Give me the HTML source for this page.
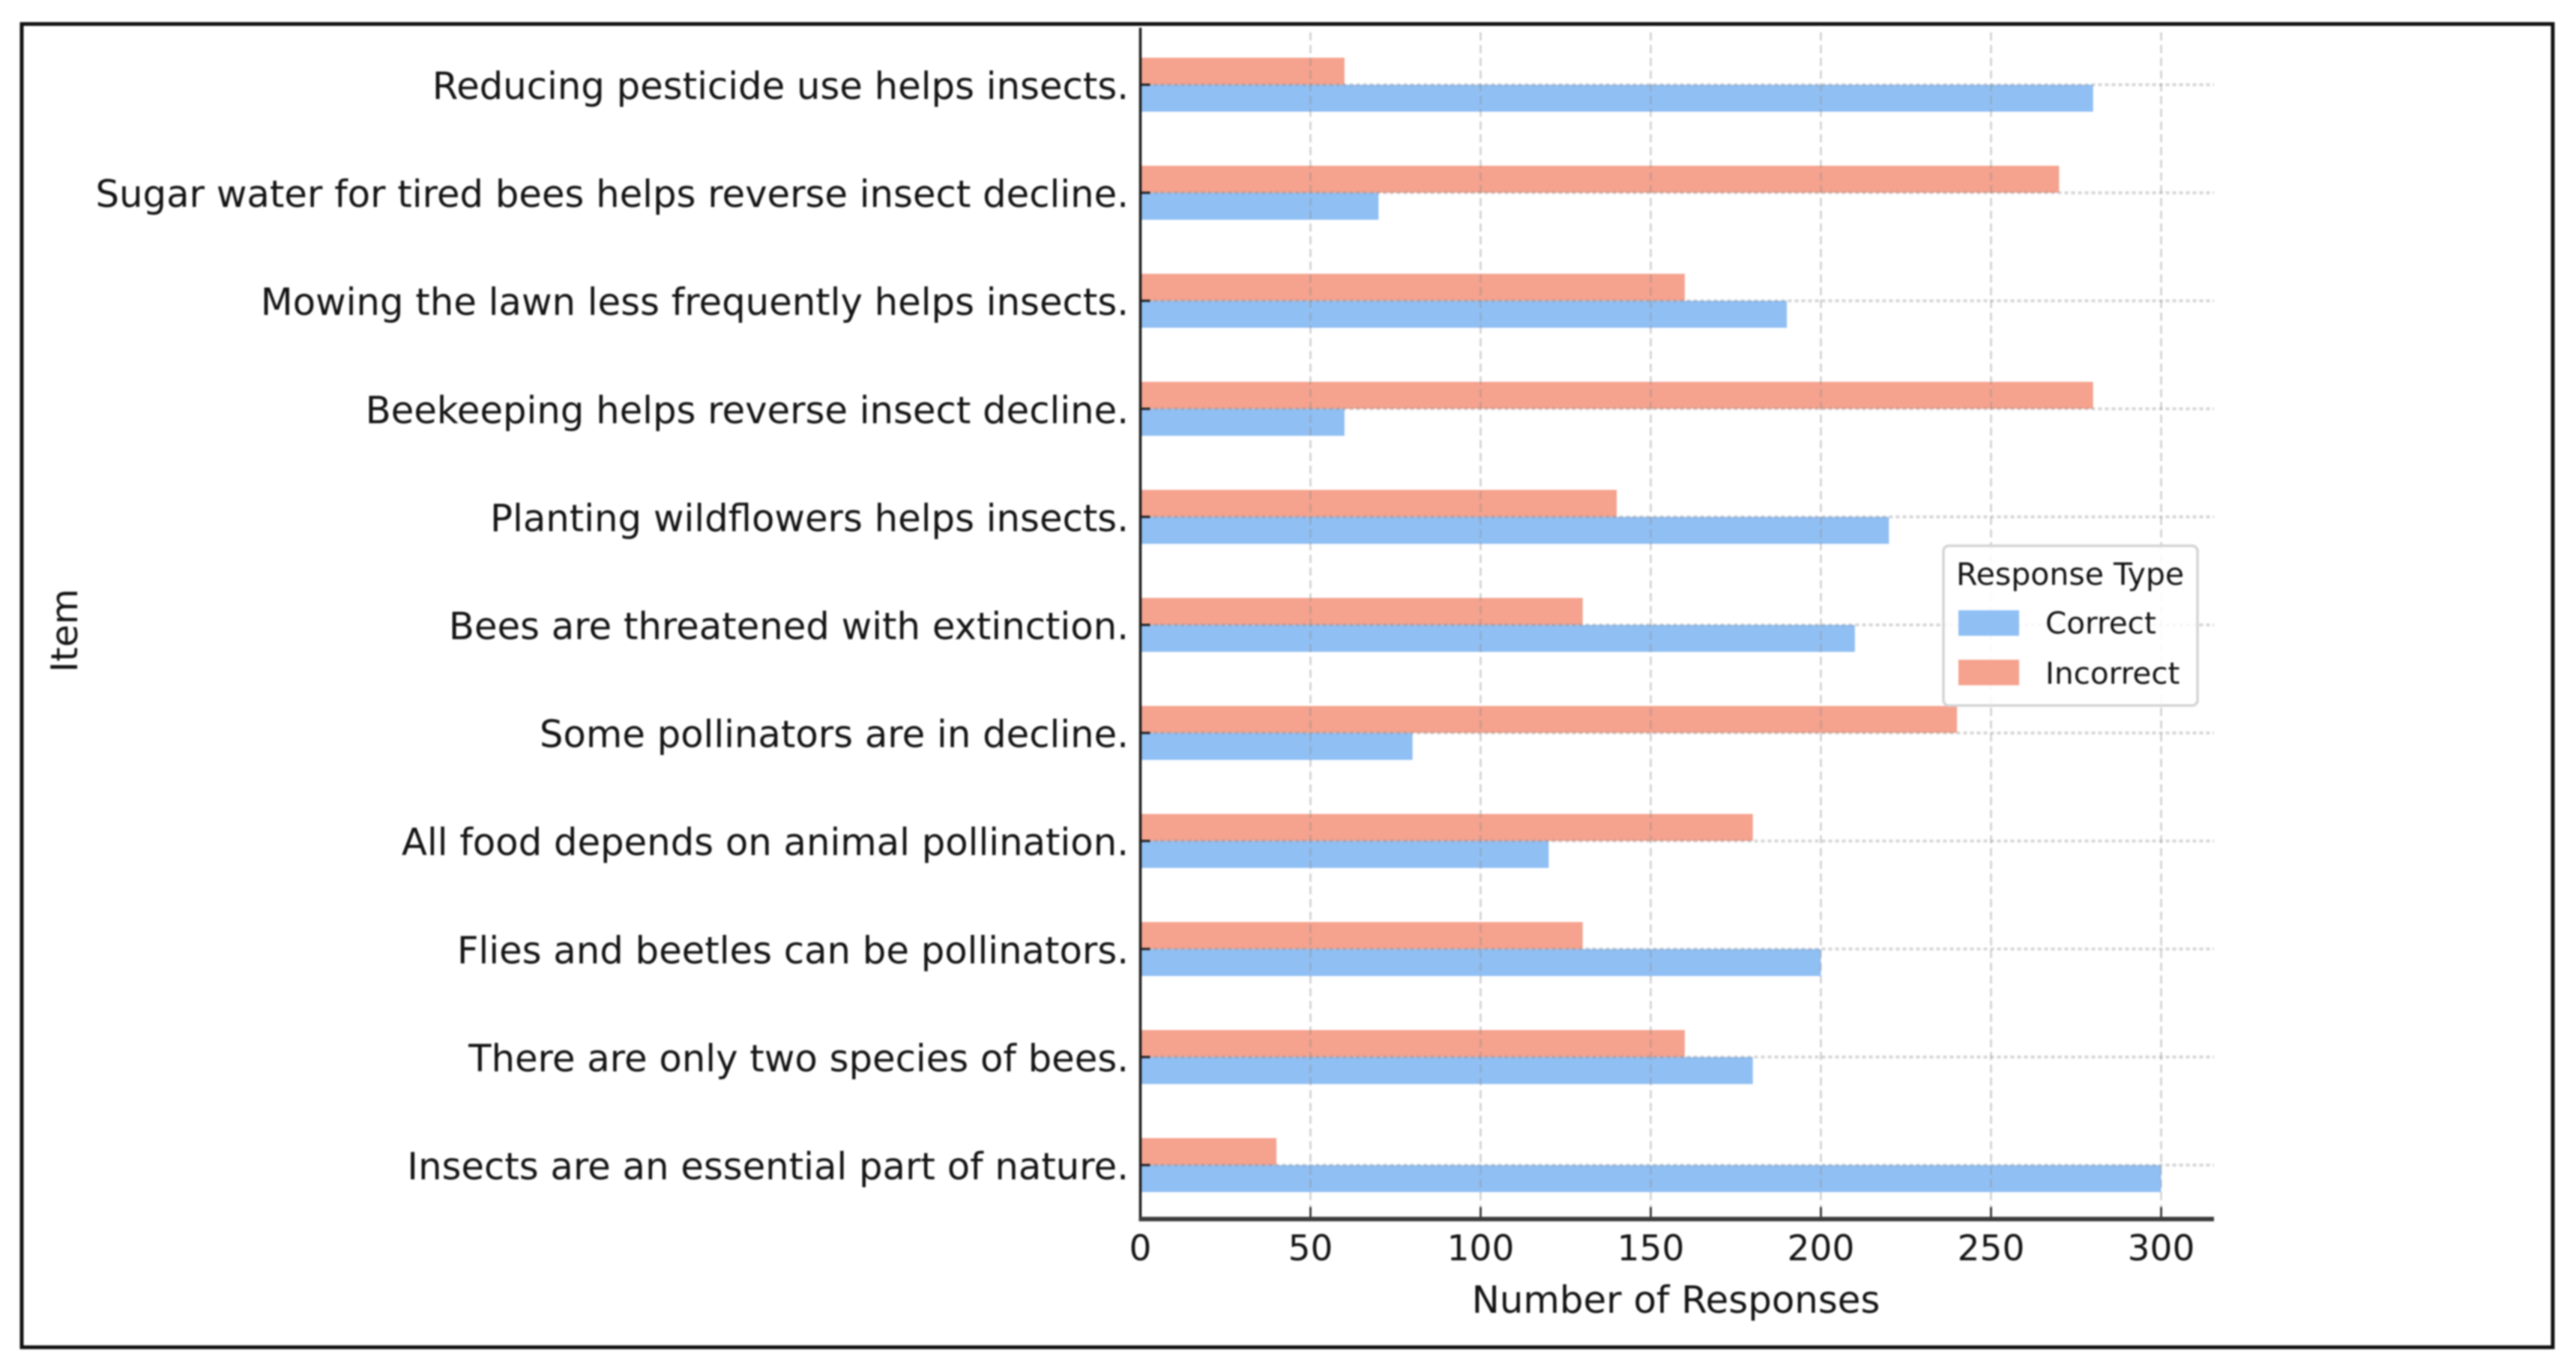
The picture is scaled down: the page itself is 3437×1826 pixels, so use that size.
<!DOCTYPE html>
<html lang="en">
<head>
<meta charset="utf-8">
<title>Insect knowledge responses</title>
<style>
html,body{margin:0;padding:0;background:#fff;width:3437px;height:1826px;overflow:hidden}
svg{display:block;filter:blur(1px)}
text{font-family:"DejaVu Sans","Liberation Sans",sans-serif;fill:#141414}
</style>
</head>
<body>
<svg id="chart" xmlns="http://www.w3.org/2000/svg" width="3437" height="1826" viewBox="0 0 3437 1826">
  <rect x="0" y="0" width="3437" height="1826" fill="#ffffff"/>
  <rect x="29" y="32" width="3377" height="1765" fill="none" stroke="#111111" stroke-width="5"/>
  <g id="grid"></g>
  <g id="bars"></g>
  <g id="gridOver"></g>
  <g id="axes"></g>
  <text x="2236" y="1751" font-size="49.8" text-anchor="middle">Number of Responses</text>
  <text transform="translate(103 841) rotate(-90)" font-size="49" text-anchor="middle">Item</text>
  <g>
    <rect x="2593" y="728" width="339" height="213" rx="7" fill="#ffffff" fill-opacity="0.85" stroke="#d4d4d4" stroke-width="3.5"/>
    <text x="2610" y="780" font-size="41">Response Type</text>
    <rect x="2613" y="814" width="81" height="34" fill="#90bff4"/>
    <text x="2729" y="845" font-size="40.5">Correct</text>
    <rect x="2613" y="880" width="81" height="34" fill="#f5a28e"/>
    <text x="2729" y="912" font-size="40.5">Incorrect</text>
  </g>
</svg>
<script>
const categories = [
  "Reducing pesticide use helps insects.",
  "Sugar water for tired bees helps reverse insect decline.",
  "Mowing the lawn less frequently helps insects.",
  "Beekeeping helps reverse insect decline.",
  "Planting wildflowers helps insects.",
  "Bees are threatened with extinction.",
  "Some pollinators are in decline.",
  "All food depends on animal pollination.",
  "Flies and beetles can be pollinators.",
  "There are only two species of bees.",
  "Insects are an essential part of nature."
];
const correctValues = [280, 70, 190, 60, 220, 210, 80, 120, 200, 180, 300];
const incorrectValues = [60, 270, 160, 280, 140, 130, 240, 180, 130, 160, 40];
const xTicks = [0, 50, 100, 150, 200, 250, 300];

const SVGNS = "http://www.w3.org/2000/svg";
const plotLeft = 1521.5, plotRight = 2954, plotTop = 37, plotBottom = 1626;
const firstRow = 113, rowStep = 144.1, barHeight = 36;
function xScale(v) { return plotLeft + v * 4.54; }
function yScale(i) { return firstRow + i * rowStep; }
function make(tag, parent) {
  const el = document.createElementNS(SVGNS, tag);
  parent.appendChild(el);
  return el;
}
function setAll(el, props) {
  for (const k in props) el.setAttribute(k, props[k]);
}
const gridG = document.getElementById("gridOver");
const barsG = document.getElementById("bars");
const axesG = document.getElementById("axes");

categories.forEach(function (cat, i) {
  const cy = yScale(i);
  const inc = make("rect", barsG);
  
  
  setAll(inc, {x: xScale(0), y: cy - barHeight, width: xScale(incorrectValues[i]) - xScale(0), height: barHeight, fill: "#f5a28e"});
  const cor = make("rect", barsG);
  
  
  setAll(cor, {x: xScale(0), y: cy, width: xScale(correctValues[i]) - xScale(0), height: barHeight, fill: "#90bff4"});

  const gl = make("line", gridG);
  
  
  setAll(gl, {x1: plotLeft, x2: plotRight, y1: cy, y2: cy, stroke: "#8c8c8c", "stroke-opacity": 0.35, "stroke-width": 4, "stroke-dasharray": "5 4"});

  const tk = make("line", axesG);
  
  
  setAll(tk, {x1: plotLeft, x2: plotLeft + 13, y1: cy, y2: cy, stroke: "#222222", "stroke-width": 3});

  const lb = make("text", axesG);
  
  
  setAll(lb, {x: 1506, y: cy + 19, "font-size": 49.7, "text-anchor": "end"});
  lb.textContent = cat;
});

xTicks.forEach(function (t) {
  const x = xScale(t);
  if (t > 0) {
    const gl = make("line", gridG);
    
    
    setAll(gl, {x1: x, x2: x, y1: plotTop + 6, y2: plotBottom, stroke: "#8c8c8c", "stroke-opacity": 0.42, "stroke-width": 2.5, "stroke-dasharray": "11 6"});
  }
  const tk = make("line", axesG);
  
  
  setAll(tk, {x1: x, x2: x, y1: 1610, y2: plotBottom, stroke: "#222222", "stroke-width": 2.5});

  const lb = make("text", axesG);
  
  
  setAll(lb, {x: x, y: 1681, "font-size": 47, "text-anchor": "middle"});
  lb.textContent = String(t);
});

const yAxis = make("line", axesG);


setAll(yAxis, {x1: plotLeft, x2: plotLeft, y1: plotTop, y2: plotBottom + 2, stroke: "#1a1a1a", "stroke-width": 3.5});

const xAxis = make("line", axesG);


setAll(xAxis, {x1: plotLeft - 2, x2: plotRight, y1: plotBottom, y2: plotBottom, stroke: "#3c3c3c", "stroke-width": 6});
</script>
</body>
</html>
